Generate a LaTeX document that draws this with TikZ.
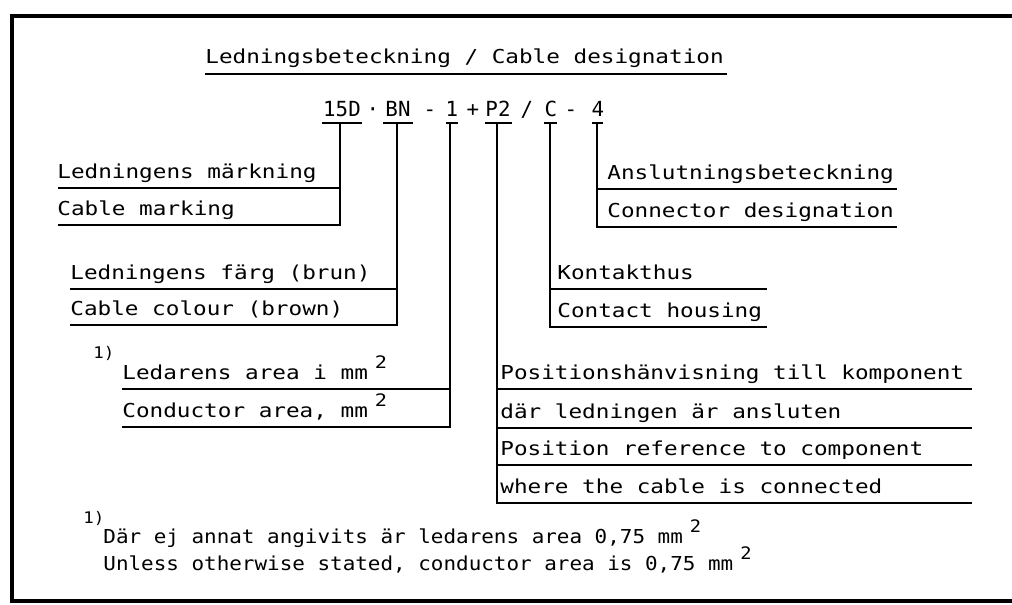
\documentclass[tikz,border=0pt]{standalone}
\usepackage{fontspec}
\newfontfamily\plotfont[FakeStretch=1.18]{DejaVu Sans Mono}
\newfontfamily\notefont[FakeStretch=1.09]{DejaVu Sans Mono}
\newfontfamily\partfont{DejaVu Sans Mono}
\newcommand{\sqtwo}{\hspace{3.5pt}\raisebox{5.5pt}{\fontsize{8.6}{9}\selectfont 2}}
\tikzset{
    lbl/.style={anchor=base west, inner sep=0pt, font=\plotfont\fontsize{9.6}{11}\selectfont},
    note/.style={anchor=base west, inner sep=0pt, font=\notefont\fontsize{9.6}{11}\selectfont},
    part/.style={anchor=base, inner sep=0pt, font=\partfont\fontsize{10.4}{12}\selectfont},
    fnmark/.style={anchor=base west, inner sep=0pt, font=\notefont\fontsize{8}{9}\selectfont},
    lead/.style={line width=1pt},
}
\begin{document}
\begin{tikzpicture}[x=0.5pt, y=-0.5pt]
            \useasboundingbox (0,0) rectangle (1012,605);
            \draw[line width=1.6pt] (1012,16) -- (12,16) -- (12,601) -- (1012,601);
            
            % title
            \node[lbl] (title) at (205,63) {Ledningsbeteckning / Cable designation};
            \draw[lead] (title.base west) ++(0,11) coordinate (t1);
            \coordinate (t2) at (727,74);
            \draw[lead] (t1) to[] (t2);
            
            % designation parts
            \node[part] (mk) at (342,116) {15D};
            \node[part] (d1) at (373,116) {·};
            \node[part] (col) at (398,116) {BN};
            \node[part] (d2) at (430,116) {-};
            \node[part] (ar) at (452,116) {1};
            \node[part] (d3) at (473,116) {+};
            \node[part] (pos) at (498,116) {P2};
            \node[part] (d4) at (527,116) {/};
            \node[part] (hs) at (551,116) {C};
            \node[part] (d5) at (571,116) {-};
            \node[part] (cn) at (598,116) {4};
            
            % T bars
            \coordinate (mkL) at (322,123);
            \coordinate (mkR) at (362,123);
            \coordinate (mkT) at (340,123);
            \coordinate (colL) at (383,123);
            \coordinate (colR) at (413,123);
            \coordinate (colT) at (397,123);
            \coordinate (arL) at (446,123);
            \coordinate (arR) at (458,123);
            \coordinate (arT) at (450,123);
            \coordinate (posL) at (485,123);
            \coordinate (posR) at (512,123);
            \coordinate (posT) at (497,123);
            \coordinate (hsL) at (544,123);
            \coordinate (hsR) at (557,123);
            \coordinate (hsT) at (550,123);
            \coordinate (cnL) at (592,123);
            \coordinate (cnR) at (603,123);
            \coordinate (cnT) at (597,123);
            
            \draw[lead] (mkL) to[] (mkR);
            \draw[lead] (colL) to[] (colR);
            \draw[lead] (arL) to[] (arR);
            \draw[lead] (posL) to[] (posR);
            \draw[lead] (hsL) to[] (hsR);
            \draw[lead] (cnL) to[] (cnR);
            
            % cable marking
            \node[lbl] (mkA) at (57,178) {Ledningens märkning};
            \node[lbl] (mkB) at (57,215) {Cable marking};
            \coordinate (mkA1) at (58,188);
            \coordinate (mkB1) at (58,225);
            \draw[lead] (mkT) |- (mkA1);
            \draw[lead] (mkT) |- (mkB1);
            
            % cable colour
            \node[lbl] (colA) at (70,279) {Ledningens färg (brun)};
            \node[lbl] (colB) at (70,315) {Cable colour (brown)};
            \coordinate (colA1) at (70,289);
            \coordinate (colB1) at (70,325);
            \draw[lead] (colT) |- (colA1);
            \draw[lead] (colT) |- (colB1);
            
            % conductor area
            \node[fnmark] (fn1) at (93,358) {1)};
            \node[lbl] (arA) at (122,379) {Ledarens area i mm\sqtwo};
            \node[lbl] (arB) at (122,417) {Conductor area, mm\sqtwo};
            \coordinate (arA1) at (122,389);
            \coordinate (arB1) at (122,427);
            \draw[lead] (arT) |- (arA1);
            \draw[lead] (arT) |- (arB1);
            
            % position reference
            \node[lbl] (posA) at (500,379) {Positionshänvisning till komponent};
            \node[lbl] (posB) at (500,418) {där ledningen är ansluten};
            \node[lbl] (posC) at (500,455) {Position reference to component};
            \node[lbl] (posD) at (500,493) {where the cable is connected};
            \coordinate (posA1) at (972,389);
            \coordinate (posB1) at (972,428);
            \coordinate (posC1) at (972,465);
            \coordinate (posD1) at (972,503);
            \draw[lead] (posT) |- (posA1);
            \draw[lead] (posT) |- (posB1);
            \draw[lead] (posT) |- (posC1);
            \draw[lead] (posT) |- (posD1);
            
            % contact housing
            \node[lbl] (hsA) at (557,279) {Kontakthus};
            \node[lbl] (hsB) at (557,317) {Contact housing};
            \coordinate (hsA1) at (767,289);
            \coordinate (hsB1) at (767,327);
            \draw[lead] (hsT) |- (hsA1);
            \draw[lead] (hsT) |- (hsB1);
            
            % connector designation
            \node[lbl] (cnA) at (607,179) {Anslutningsbeteckning};
            \node[lbl] (cnB) at (607,217) {Connector designation};
            \coordinate (cnA1) at (897,189);
            \coordinate (cnB1) at (897,227);
            \draw[lead] (cnT) |- (cnA1);
            \draw[lead] (cnT) |- (cnB1);
            
            % footnote
            \node[fnmark] (fn2) at (83,523) {1)};
            \node[note] (noteA) at (103,543) {Där ej annat angivits är ledarens area 0,75 mm\sqtwo};
            \node[note] (noteB) at (103,570) {Unless otherwise stated, conductor area is 0,75 mm\sqtwo};
        \end{tikzpicture}
\end{document}
